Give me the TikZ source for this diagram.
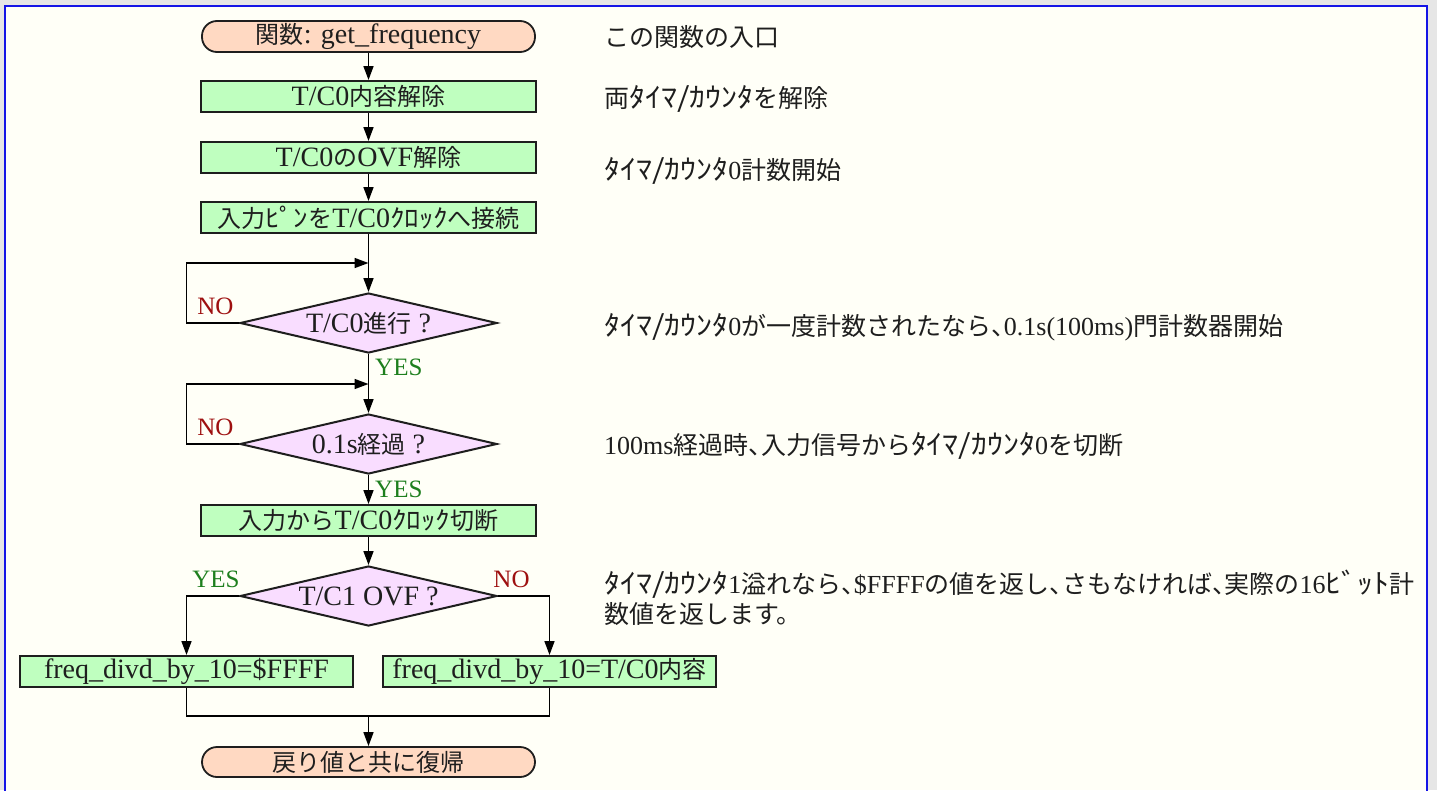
\documentclass[tikz,border=0pt]{standalone}
\usepackage{fontspec}
\setmainfont{Liberation Serif}
\newfontfamily\jpf{Noto Sans CJK JP}[Scale=0.857]
\newfontfamily\jpfk{Noto Sans CJK JP}[Scale=0.9, FakeStretch=1.15]
\newfontfamily\jpd{Noto Sans CJK JP}[Scale=0.9615, RawFeature=+halt]
\newfontfamily\jpdk{Noto Sans CJK JP}[Scale=1.058, FakeStretch=1.16]
\usetikzlibrary{shapes.geometric,arrows.meta}
\newcommand\J[1]{{\jpf #1}}
\newcommand\K[1]{{\jpfk #1}}
\newcommand\D[1]{{\jpd #1}}
\newcommand\DK[1]{{\jpdk #1}}
\definecolor{bgout}{HTML}{E6E6E6}
\definecolor{bgin}{HTML}{FFFFF7}
\definecolor{framecol}{HTML}{1414E6}
\definecolor{termfill}{HTML}{FFD9C2}
\definecolor{procfill}{HTML}{BFFFBF}
\definecolor{decfill}{HTML}{F9DDFF}
\definecolor{yescol}{HTML}{1E7F1E}
\definecolor{nocol}{HTML}{9E1010}
\definecolor{txt}{HTML}{1E1E1E}
\tikzset{
  flowfont/.style={font=\fontsize{28}{30}\selectfont},
  term/.style={draw=txt, line width=1.8pt, fill=termfill, rounded corners=15pt,
    minimum width=333pt, minimum height=31pt, inner sep=0pt, text=txt, flowfont},
  proc/.style={draw=txt, line width=2pt, fill=procfill,
    minimum width=335pt, minimum height=31pt, inner sep=0pt, text=txt, flowfont},
  dec/.style={diamond, aspect=4.283, draw=txt, line width=2pt, fill=decfill,
    minimum width=257pt, minimum height=60pt, inner sep=0pt, text=txt, flowfont},
  conn/.style={draw=black, line width=1.6pt},
  arr/.style={conn, -{Triangle[length=14pt,width=10pt]}},
  yeslbl/.style={text=yescol, inner sep=0pt, font=\fontsize{25}{25}\selectfont},
  nolbl/.style={text=nocol, inner sep=0pt, font=\fontsize{25}{25}\selectfont},
  desc/.style={anchor=west, inner sep=0pt, text=txt, font=\fontsize{26}{30}\selectfont}
}
\begin{document}
\begin{tikzpicture}[x=1pt,y=-1pt]
\useasboundingbox (0,0) rectangle (1437,790);
\fill[bgout] (0,0) rectangle (1437,790);
\fill[bgin] (5,6) rectangle (1427,790);
\draw[framecol, line width=2pt] (5,792) -- (5,6) -- (1427,6) -- (1427,792);

% flowchart nodes
\node[term] (t1) at (368.5,36.5) {\J{関数}: get\_frequency};
\node[proc] (b1) at (368.5,96.5) {T/C0\J{内容解除}};
\node[proc] (b2) at (368.5,157.5) {T/C0\J{の}OVF\J{解除}};
\node[proc] (b3) at (368.5,217.5) {\J{入力}\K{ﾋﾟﾝ}\J{を}T/C0\K{ｸﾛｯｸ}\J{へ接続}};
\node[dec] (d1) at (368.5,323) {T/C0\J{進行} ?};
\node[dec] (d2) at (368.5,444) {0.1s\J{経過} ?};
\node[proc] (b4) at (368.5,520.5) {\J{入力から}T/C0\K{ｸﾛｯｸ}\J{切断}};
\node[dec] (d3) at (368.5,596) {T/C1 OVF ?};
\node[proc, minimum width=333pt] (b5) at (186.5,671.5) {freq\_divd\_by\_10=\$FFFF};
\node[proc, minimum width=333pt] (b6) at (549.5,671.5) {freq\_divd\_by\_10=T/C0\J{内容}};
\node[term, minimum height=30pt] (t2) at (368.5,762) {\J{戻り値と共に復帰}};

% helper coordinates
\coordinate (j1) at (368.5,263);
\coordinate (c1) at (186.5,263);
\coordinate (j2) at (368.5,384);
\coordinate (c2) at (186.5,384);
\coordinate (m) at (368.5,716);

% connectors
\draw[arr] (t1) -- (b1);
\draw[arr] (b1) -- (b2);
\draw[arr] (b2) -- (b3);
\draw[arr] (b3) -- (d1);
\draw[arr] (d1.west) -| (c1) -- (j1);
\draw[arr] (d1) -- (d2);
\draw[arr] (d2.west) -| (c2) -- (j2);
\draw[arr] (d2) -- (b4);
\draw[arr] (b4) -- (d3);
\draw[arr] (d3.west) -| (b5.north);
\draw[arr] (d3.east) -| (b6.north);
\draw[conn] (b5.south) |- (m);
\draw[conn] (b6.south) |- (m);
\draw[arr] (m) -- (t2);

% branch labels
\node[nolbl] (n1) at (215.5,306.5) {NO};
\node[yeslbl, anchor=west] (y1) at (375,367.5) {YES};
\node[nolbl] (n2) at (215.5,427.5) {NO};
\node[yeslbl, anchor=west] (y2) at (375,489) {YES};
\node[yeslbl] (y3) at (216,579) {YES};
\node[nolbl] (n3) at (511.5,579) {NO};

% descriptions
\node[desc] (e1) at (604,37) {\D{この関数の入口}};
\node[desc] (e2) at (604,99) {\D{両}\DK{ﾀｲﾏ/ｶｳﾝﾀ}\D{を解除}};
\node[desc] (e3) at (604,171) {\DK{ﾀｲﾏ/ｶｳﾝﾀ}0\D{計数開始}};
\node[desc] (e4) at (604,327) {\DK{ﾀｲﾏ/ｶｳﾝﾀ}0\D{が一度計数されたなら、}0.1s(100ms)\D{門計数器開始}};
\node[desc] (e5) at (604,446) {100ms\D{経過時、入力信号から}\DK{ﾀｲﾏ/ｶｳﾝﾀ}0\D{を切断}};
\node[desc, align=left] (e6) at (604,598) {\DK{ﾀｲﾏ/ｶｳﾝﾀ}1\D{溢れなら、}\$FFFF\D{の値を返し、さもなければ、実際の}16\DK{ﾋﾞｯﾄ}\D{計}\\\D{数値を返します。}};
\end{tikzpicture}
\end{document}
